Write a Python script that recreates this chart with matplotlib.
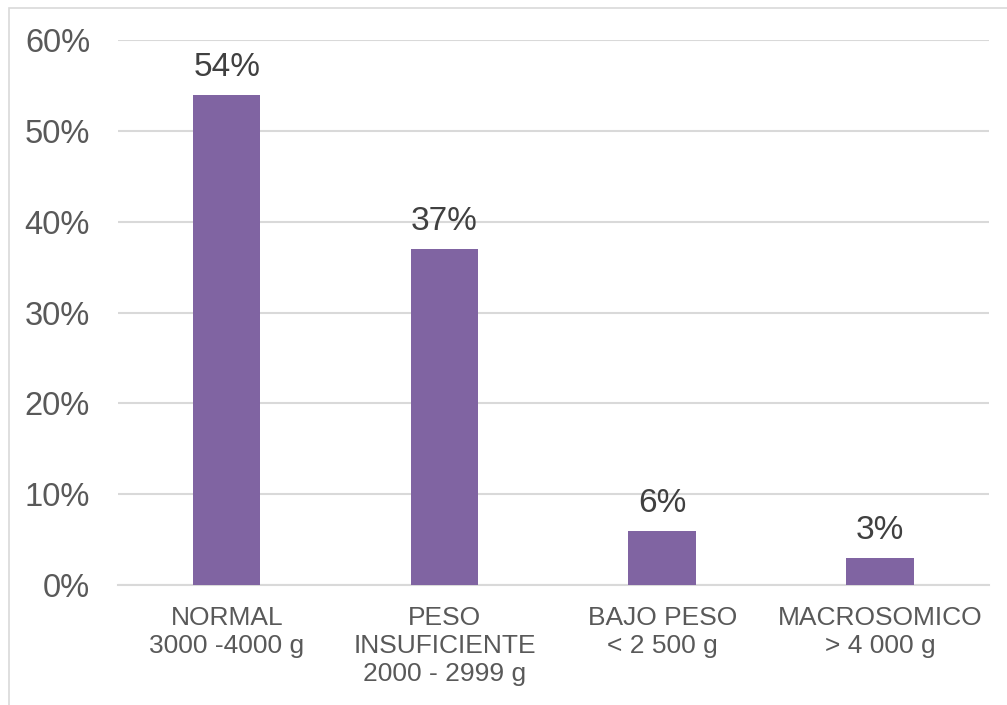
# -*- coding: utf-8 -*-

import matplotlib.pyplot as plt
from matplotlib.patches import Rectangle
from matplotlib.ticker import FuncFormatter

# データ
categories = ["NORMAL\n3000 -4000 g",
              "PESO\nINSUFICIENTE\n2000 - 2999 g",
              "BAJO PESO\n< 2 500 g",
              "MACROSOMICO\n> 4 000 g"]
values = [54, 37, 6, 3]
value_labels = ["54%", "37%", "6%", "3%"]

plt.rcParams['font.family'] = ['Liberation Sans', 'DejaVu Sans']

fig = plt.figure(figsize=(10.07, 7.05), dpi=100)
ax = fig.add_axes([0.117, 0.170, 0.865, 0.773])

# 外枠
fig.patches.append(Rectangle((9 / 1007, -0.1), 1.2, 1 - 8 / 705 + 0.1,
                             transform=fig.transFigure, fill=False,
                             edgecolor='#D9D9D9', linewidth=1.2))

x = range(len(categories))
bars = ax.bar(x, values, width=0.31, color='#8064A2', zorder=3)

for b, lab in zip(bars, value_labels):
    ax.text(b.get_x() + b.get_width() / 2, b.get_height() + 1.3, lab,
            ha='center', va='bottom', fontsize=24, color='#404040')

ax.set_xlim(-0.5, len(categories) - 0.5)
ax.set_ylim(0, 60)
ax.set_yticks(range(0, 61, 10))
ax.yaxis.set_major_formatter(FuncFormatter(lambda v, p: "%d%%" % v))
ax.set_xticks(list(x))
ax.set_xticklabels(categories, fontsize=19, color='#595959', linespacing=1.22)
ax.tick_params(axis='y', labelsize=23.5, labelcolor='#595959', length=0, pad=20)
ax.tick_params(axis='x', length=0, pad=15)

ax.grid(axis='y', color='#D9D9D9', linewidth=1.5, zorder=0)
for s in ['top', 'right', 'left']:
    ax.spines[s].set_visible(False)
ax.spines['bottom'].set_color('#D9D9D9')
ax.spines['bottom'].set_linewidth(1.5)

plt.savefig("out.png", dpi=100)
